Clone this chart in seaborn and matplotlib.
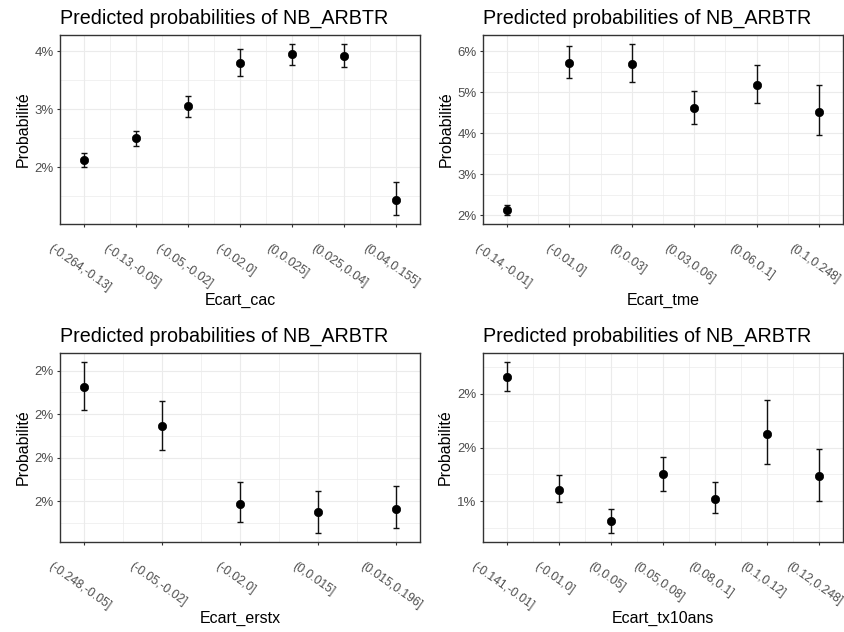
import numpy as np
import pandas as pd
import matplotlib
matplotlib.use("Agg")
import matplotlib.pyplot as plt
import seaborn as sns

# ---- data (predicted probabilities in %, with confidence bounds) ----
cac_cats = ["(-0.264,-0.13]", "(-0.13,-0.05]", "(-0.05,-0.02]", "(-0.02,0]",
            "(0,0.025]", "(0.025,0.04]", "(0.04,0.155]"]
cac_est = [2.13, 2.50, 3.05, 3.79, 3.95, 3.92, 1.44]
cac_lo = [2.01, 2.36, 2.87, 3.57, 3.76, 3.72, 1.17]
cac_hi = [2.24, 2.63, 3.22, 4.04, 4.13, 4.13, 1.75]
cac_ticks = [2, 3, 4]
cac_ticklabels = ["2%", "3%", "4%"]

tme_cats = ["(-0.14,-0.01]", "(-0.01,0]", "(0,0.03]", "(0.03,0.06]",
            "(0.06,0.1]", "(0.1,0.248]"]
tme_est = [2.13, 5.72, 5.69, 4.63, 5.19, 4.53]
tme_lo = [2.00, 5.35, 5.25, 4.24, 4.74, 3.95]
tme_hi = [2.25, 6.13, 6.19, 5.03, 5.68, 5.19]
tme_ticks = [2, 3, 4, 5, 6]
tme_ticklabels = ["2%", "3%", "4%", "5%", "6%"]

erstx_cats = ["(-0.248,-0.05]", "(-0.05,-0.02]", "(-0.02,0]", "(0,0.015]",
              "(0.015,0.196]"]
erstx_est = [2.125, 1.948, 1.589, 1.549, 1.566]
erstx_lo = [2.018, 1.835, 1.505, 1.452, 1.475]
erstx_hi = [2.242, 2.063, 1.688, 1.648, 1.668]
erstx_ticks = [1.6, 1.8, 2.0, 2.2]
erstx_ticklabels = ["2%", "2%", "2%", "2%"]

tx10_cats = ["(-0.141,-0.01]", "(-0.01,0]", "(0,0.05]", "(0.05,0.08]",
             "(0.08,0.1]", "(0.1,0.12]", "(0.12,0.248]"]
tx10_est = [2.156, 1.106, 0.816, 1.252, 1.022, 1.628, 1.231]
tx10_lo = [2.022, 0.991, 0.701, 1.097, 0.888, 1.350, 1.003]
tx10_hi = [2.299, 1.240, 0.931, 1.414, 1.181, 1.941, 1.489]
tx10_ticks = [1.0, 1.5, 2.0]
tx10_ticklabels = ["1%", "2%", "2%"]

TITLE = "Predicted probabilities of NB_ARBTR"
YLABEL = "Probabilité"

sns.set_theme(style="white")
plt.rcParams["font.family"] = ["Liberation Sans", "DejaVu Sans"]

W, H = 845, 632
DPI = 100
fig = plt.figure(figsize=(W / DPI, H / DPI), dpi=DPI)
fig.patch.set_facecolor("white")

GRID = "#EBEBEB"
BORDER = "#333333"
TICKTXT = "#4D4D4D"
XPAD_FRAC = 0.067  # horizontal padding of the category axis, as a share of its width
PX = 72 / DPI      # one pixel in points


def panel_axes(x0, y0, x1, y1):
    return fig.add_axes([x0 / W, 1 - y1 / H, (x1 - x0) / W, (y1 - y0) / H])


def draw_panel(ax, cats, est, lo, hi, ticks, ticklabels, xlabel):
    df = pd.DataFrame({"cat": pd.Categorical(cats, categories=cats, ordered=True),
                       "est": est, "lo": lo, "hi": hi})
    df["pos"] = df["cat"].cat.codes
    n = len(cats)

    # y range with 5% padding around the intervals
    rng = max(hi) - min(lo)
    ymin, ymax = min(lo) - 0.05 * rng, max(hi) + 0.05 * rng

    # x range: categories spread over the panel with a fixed side margin
    span = (n - 1) / (1 - 2 * XPAD_FRAC)
    xpad = XPAD_FRAC * span
    xmin, xmax = -xpad, n - 1 + xpad

    # grid: major at ticks / categories, minor at midpoints
    step = ticks[1] - ticks[0]
    minors = np.arange(ticks[0] - step / 2, ticks[-1] + step, step)
    for m in minors:
        if ymin < m < ymax:
            ax.axhline(m, color=GRID, lw=0.5, zorder=0)
    for t in ticks:
        ax.axhline(t, color=GRID, lw=0.8, zorder=0)
    for i in range(n - 1):
        ax.axvline(i + 0.5, color=GRID, lw=0.5, zorder=0)
    for i in range(n):
        ax.axvline(i, color=GRID, lw=0.8, zorder=0)

    ax.errorbar(df["pos"], df["est"],
                yerr=[df["est"] - df["lo"], df["hi"] - df["est"]],
                fmt="none", ecolor="#111111", elinewidth=1.0,
                capsize=2.3, capthick=1.0, zorder=2)
    sns.scatterplot(data=df, x="pos", y="est", ax=ax, color="black",
                    s=36, edgecolor="black", linewidth=0.5, zorder=3,
                    legend=False)

    ax.set_xlim(xmin, xmax)
    ax.set_ylim(ymin, ymax)

    # category labels, rotated, hanging under each tick
    ax.set_xticks(range(n))
    ax.set_xticklabels([""] * n)
    xform = ax.get_xaxis_transform()
    for i, c in enumerate(df["cat"].astype(str)):
        ax.annotate(c, xy=(i, 0), xycoords=xform,
                    xytext=(-4.5 * PX, -18 * PX), textcoords="offset points",
                    rotation=-35, ha="center", va="top",
                    fontsize=8.7, color=TICKTXT, annotation_clip=False)

    ax.set_yticks(ticks)
    ax.set_yticklabels(ticklabels, fontsize=9.5, color=TICKTXT)
    ax.tick_params(axis="both", which="major", length=2.5, width=0.8,
                   color=BORDER, bottom=True, left=True)
    ax.tick_params(axis="y", pad=2)
    ax.grid(False)
    for sp in ax.spines.values():
        sp.set_color(BORDER)
        sp.set_linewidth(1.0)
    ax.set_xlabel(xlabel, fontsize=11.5, color="black")
    ax.xaxis.label.set_va("center")
    ax.xaxis.set_label_coords(0.5, -0.405)
    ax.set_ylabel(YLABEL, fontsize=11.5, color="black", labelpad=3)
    ax.set_title(TITLE, loc="left", fontsize=14.2, color="black", pad=8)


ax1 = panel_axes(60, 35, 420, 224)
draw_panel(ax1, cac_cats, cac_est, cac_lo, cac_hi, cac_ticks, cac_ticklabels,
           "Ecart_cac")
ax2 = panel_axes(483, 35, 843, 224)
draw_panel(ax2, tme_cats, tme_est, tme_lo, tme_hi, tme_ticks, tme_ticklabels,
           "Ecart_tme")
ax3 = panel_axes(60, 353, 420, 542)
draw_panel(ax3, erstx_cats, erstx_est, erstx_lo, erstx_hi, erstx_ticks,
           erstx_ticklabels, "Ecart_erstx")
ax4 = panel_axes(483, 353, 843, 542)
draw_panel(ax4, tx10_cats, tx10_est, tx10_lo, tx10_hi, tx10_ticks,
           tx10_ticklabels, "Ecart_tx10ans")

fig.savefig("out.png", dpi=DPI, facecolor="white")
